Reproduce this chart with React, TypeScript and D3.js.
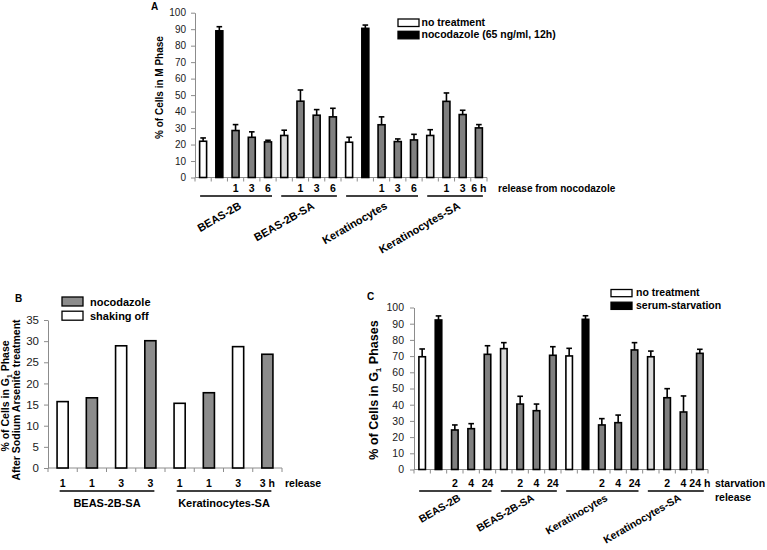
import React, { useRef, useEffect } from 'react';
import * as d3 from 'd3';

// ---- panel A: % of cells in M phase ----
const mGroups = ['BEAS-2B', 'BEAS-2B-SA', 'Keratinocytes', 'Keratinocytes-SA'];
const mGroupOf = [0, 0, 0, 0, 0, 1, 1, 1, 1, 2, 2, 2, 2, 2, 3, 3, 3, 3];
const mKinds = ['none', 'treat', 'release', 'release', 'release', 'sa', 'release', 'release', 'release',
  'none', 'treat', 'release', 'release', 'release', 'sa', 'release', 'release', 'release'];
const mTicks = ['', '', '1', '3', '6', '', '1', '3', '6', '', '', '1', '3', '6', '', '1', '3', '6 h'];
const mValues = [22, 89, 28.5, 24.4, 21.6, 25.5, 46.3, 37.8, 36.8, 21.4, 90.5, 32, 21.8, 22.8, 25.5, 46.2, 38.2, 30.1];
const mErrors = [2, 2.5, 3.6, 3.3, 1, 3.2, 6.8, 3.4, 5.2, 3, 2, 4.8, 1.6, 3.4, 3.5, 5.1, 2.6, 2];

// ---- panel B: % of cells in G1 after sodium arsenite ----
const bGroups = ['BEAS-2B-SA', 'Keratinocytes-SA'];
const bGroupOf = [0, 0, 0, 0, 1, 1, 1, 1];
const bKinds = ['shake', 'noco', 'shake', 'noco', 'shake', 'noco', 'shake', 'noco'];
const bTicks = ['1', '1', '3', '3', '1', '1', '3', '3 h'];
const bValues = [15.7, 16.6, 28.9, 30.1, 15.3, 17.8, 28.7, 26.9];

// ---- panel C: % of cells in G1 phases ----
const cGroups = ['BEAS-2B', 'BEAS-2B-SA', 'Keratinocytes', 'Keratinocytes-SA'];
const cGroupOf = [0, 0, 0, 0, 0, 1, 1, 1, 1, 2, 2, 2, 2, 2, 3, 3, 3, 3];
const cKinds = mKinds;
const cTicks = ['', '', '2', '4', '24', '', '2', '4', '24', '', '', '2', '4', '24', '', '2', '4', '24 h'];
const cValues = [69.6, 92.3, 24.4, 25.2, 71.1, 74.6, 40.4, 36.3, 70.5, 70.1, 92.7, 27.5, 28.9, 73.8, 69.6, 44.3, 35.5, 71.7];
const cErrors = [4.8, 2.5, 3.1, 3.1, 5.3, 3.7, 4.8, 4.1, 5.3, 4.7, 2.2, 3.9, 4.7, 4.5, 3.5, 5.6, 9.9, 2.5];

const fills: Record<string, string> = {
  none: '#ffffff', treat: '#000000', release: '#808080', sa: '#d9d9d9', shake: '#ffffff', noco: '#8c8c8c',
};
const FONT = '"Liberation Sans", Arial, sans-serif';

function drawPanel(root: any, o: any) {
  const g = root.append('g');
  const n = o.values.length;
  const x = d3.scaleBand<number>().domain(d3.range(n)).range([o.x0, o.x1]).paddingInner(o.pad).paddingOuter(o.pad / 2);
  const y = d3.scaleLinear().domain([0, o.max]).range([o.yBottom, o.yTop]);
  const step = x.step();
  const bw = x.bandwidth();
  const cx = (i: number) => x(i)! + bw / 2;

  // y axis
  const ya = g.append('g').attr('transform', `translate(${o.x0},0)`)
    .call(d3.axisLeft(y).tickValues(d3.range(0, o.max + 0.1, o.step)).tickSize(4).tickSizeOuter(0).tickPadding(o.tickPad));
  ya.select('.domain').attr('stroke', '#8c8c8c');
  ya.selectAll('.tick line').attr('stroke', '#8c8c8c');
  ya.selectAll('.tick text').attr('fill', '#1a1a1a').style('font-size', `${o.tickFont}px`).style('font-family', FONT);

  // x axis line with ticks between categories
  g.append('line').attr('x1', o.x0).attr('x2', o.x1).attr('y1', y(0)).attr('y2', y(0)).attr('stroke', '#8c8c8c');
  g.selectAll('.xt').data(d3.range(n + 1)).enter().append('line')
    .attr('x1', (d: number) => o.x0 + d * step).attr('x2', (d: number) => o.x0 + d * step)
    .attr('y1', y(0)).attr('y2', y(0) + 4).attr('stroke', '#8c8c8c');

  // bars
  g.selectAll('.bar').data(o.values).enter().append('rect')
    .attr('x', (_: number, i: number) => x(i)!)
    .attr('y', (d: number) => y(d))
    .attr('width', bw)
    .attr('height', (d: number) => y(0) - y(d))
    .attr('fill', (_: number, i: number) => fills[o.kinds[i]])
    .attr('stroke', '#000').attr('stroke-width', 1.6);

  // error bars (upper only)
  if (o.errors) {
    o.values.forEach((v: number, i: number) => {
      const top = y(v + o.errors[i]);
      g.append('line').attr('x1', cx(i)).attr('x2', cx(i)).attr('y1', y(v)).attr('y2', top).attr('stroke', '#000').attr('stroke-width', 1.6);
      g.append('line').attr('x1', cx(i) - 2.8).attr('x2', cx(i) + 2.8).attr('y1', top).attr('y2', top).attr('stroke', '#000').attr('stroke-width', 1.6);
    });
  }

  // release time labels
  o.ticks.forEach((t: string, i: number) => {
    if (!t) return;
    g.append('text').attr('x', cx(i)).attr('y', o.labelY).attr('text-anchor', 'middle')
      .style('font-family', FONT).style('font-weight', 'bold').style('font-size', `${o.labelFont}px`).text(t);
  });

  // group underlines and names
  o.groups.forEach((name: string, gi: number) => {
    const idx = o.groupOf.map((d: number, i: number) => (d === gi ? i : -1)).filter((i: number) => i >= 0);
    const a = cx(idx[0]) - 3;
    const b = cx(idx[idx.length - 1]) + 4;
    g.append('line').attr('x1', a).attr('x2', b).attr('y1', o.lineY).attr('y2', o.lineY).attr('stroke', '#000').attr('stroke-width', 1.6);
    const mid = (a + b) / 2;
    const t = g.append('text').style('font-family', FONT).style('font-weight', 'bold').style('font-size', `${o.groupFont}px`).text(name);
    if (o.rotate) {
      t.attr('text-anchor', 'end').attr('transform', `translate(${mid + 6},${o.groupY}) rotate(-30)`);
    } else {
      t.attr('text-anchor', 'middle').attr('x', mid).attr('y', o.groupY);
    }
  });
}

function legend(root: any, x: number, y0: number, gap: number, h: number, tx: number, size: number, items: [string, string][]) {
  items.forEach(([fill, label], i) => {
    const y = y0 + i * gap;
    root.append('rect').attr('x', x).attr('y', y).attr('width', 21).attr('height', h)
      .attr('fill', fill).attr('stroke', '#000').attr('stroke-width', 1.3);
    root.append('text').attr('x', tx).attr('y', y + h - 0.5)
      .style('font-family', FONT).style('font-weight', 'bold').style('font-size', `${size}px`).text(label);
  });
}

function g1Title(root: any, x: number, y: number, size: number, prefix: string, suffix: string) {
  const t = root.append('text').attr('text-anchor', 'middle').attr('transform', `translate(${x},${y}) rotate(-90)`)
    .style('font-family', FONT).style('font-weight', 'bold').style('font-size', `${size}px`);
  t.append('tspan').text(prefix);
  t.append('tspan').attr('dy', 3).style('font-size', `${size * 0.65}px`).text('1');
  t.append('tspan').attr('dy', -3).text(suffix);
}

const App: React.FC = () => {
  const svgRef = useRef<SVGSVGElement | null>(null);

  useEffect(() => {
    const svg = d3.select(svgRef.current);
    svg.selectAll('*').remove();

    const letter = (s: string, x: number, y: number) =>
      svg.append('text').attr('x', x).attr('y', y).style('font-family', FONT).style('font-weight', 'bold').style('font-size', '10px').text(s);

    // A
    letter('A', 151, 9.5);
    drawPanel(svg, {
      x0: 195, x1: 487, yTop: 12.7, yBottom: 177.5, max: 100, step: 10, pad: 0.57, tickFont: 10, tickPad: 5,
      values: mValues, errors: mErrors, kinds: mKinds, ticks: mTicks, labelY: 192, labelFont: 10.5,
      groups: mGroups, groupOf: mGroupOf, lineY: 196, rotate: true, groupY: 208, groupFont: 11,
    });
    svg.append('text').attr('text-anchor', 'middle').attr('transform', 'translate(163,87.5) rotate(-90)')
      .style('font-family', FONT).style('font-weight', 'bold').style('font-size', '10px').text('% of Cells in M Phase');
    svg.append('text').attr('x', 498).attr('y', 192)
      .style('font-family', FONT).style('font-weight', 'bold').style('font-size', '10px').text('release from nocodazole');
    legend(svg, 398, 19, 12.3, 7.5, 421.5, 10.5, [['#ffffff', 'no treatment'], ['#000000', 'nocodazole (65 ng/ml, 12h)']]);

    // B
    letter('B', 15, 302);
    drawPanel(svg, {
      x0: 48, x1: 282, yTop: 320, yBottom: 468, max: 35, step: 5, pad: 0.62, tickFont: 11.5, tickPad: 5,
      values: bValues, errors: null, kinds: bKinds, ticks: bTicks, labelY: 487, labelFont: 10.5,
      groups: bGroups, groupOf: bGroupOf, lineY: 491, rotate: false, groupY: 507, groupFont: 11,
    });
    g1Title(svg, 9, 396, 10.5, '% of Cells in G', ' Phase');
    svg.append('text').attr('text-anchor', 'middle').attr('transform', 'translate(20,400) rotate(-90)')
      .style('font-family', FONT).style('font-weight', 'bold').style('font-size', '10.5px').text('After Sodium Arsenite treatment');
    svg.append('text').attr('x', 285).attr('y', 487)
      .style('font-family', FONT).style('font-weight', 'bold').style('font-size', '10.5px').text('release');
    legend(svg, 62, 297, 14.2, 9, 90, 11, [['#8c8c8c', 'nocodazole'], ['#ffffff', 'shaking off']]);

    // C
    letter('C', 367, 300);
    drawPanel(svg, {
      x0: 414, x1: 708, yTop: 307.5, yBottom: 469.5, max: 100, step: 10, pad: 0.6, tickFont: 10.5, tickPad: 6,
      values: cValues, errors: cErrors, kinds: cKinds, ticks: cTicks, labelY: 487, labelFont: 10.5,
      groups: cGroups, groupOf: cGroupOf, lineY: 491, rotate: true, groupY: 500, groupFont: 10.5,
    });
    g1Title(svg, 378, 390, 12.5, '% of Cells in G', ' Phases');
    svg.append('text').attr('x', 715).attr('y', 487)
      .style('font-family', FONT).style('font-weight', 'bold').style('font-size', '10.5px').text('starvation');
    svg.append('text').attr('x', 715).attr('y', 500.5)
      .style('font-family', FONT).style('font-weight', 'bold').style('font-size', '10.5px').text('release');
    legend(svg, 611, 289.5, 12.7, 7.2, 636, 10.5, [['#ffffff', 'no treatment'], ['#000000', 'serum-starvation']]);
  }, []);

  return (
    <svg ref={svgRef} width={767} height={550}
      style={{ position: 'absolute', left: 0, top: 0, background: '#fff' }} />
  );
};

export default App;
